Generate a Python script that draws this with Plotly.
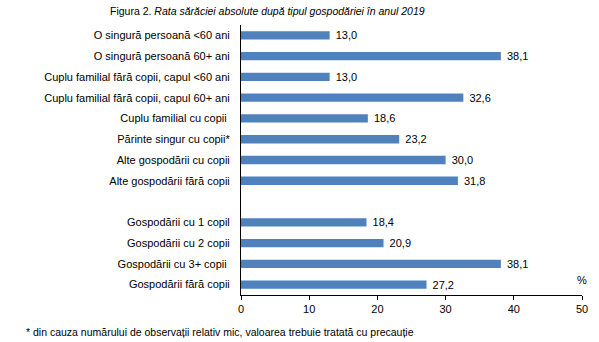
import plotly.graph_objects as go

categories = [
    "O singură persoană <60 ani",
    "O singură persoană 60+ ani",
    "Cuplu familial fără copii, capul <60 ani",
    "Cuplu familial fără copii, capul 60+ ani",
    "Cuplu familial cu copii ",
    "Părinte singur cu copii*",
    "Alte gospodării cu copii",
    "Alte gospodării fără copii",
    " ",
    "Gospodării cu 1 copil",
    "Gospodării cu 2 copii",
    "Gospodării cu 3+ copii ",
    "Gospodării fără copii",
]
values = [13.0, 38.1, 13.0, 32.6, 18.6, 23.2, 30.0, 31.8, None, 18.4, 20.9, 38.1, 27.2]
x_ticks = [0, 10, 20, 30, 40, 50]

FONT = "Liberation Sans, Arial, sans-serif"

fig = go.Figure(go.Bar(
    x=values,
    y=categories,
    orientation="h",
    marker=dict(color="#4F81BD", line=dict(width=0)),
    texttemplate=" %{x:.1f}",
    textposition="outside",
    constraintext="none",
    textfont=dict(family=FONT, size=11, color="black"),
    cliponaxis=False,
    hoverinfo="skip",
))

fig.update_layout(
    width=599, height=342,
    margin=dict(l=241, r=17, t=25, b=47),
    paper_bgcolor="white", plot_bgcolor="white",
    separators=",.",
    bargap=0.6,
    showlegend=False,
    uniformtext=dict(minsize=11, mode="show"),
    font=dict(family=FONT, size=11, color="black"),
    xaxis=dict(
        range=[0, 50], tickvals=x_ticks, showgrid=False, zeroline=False,
        showline=True, linecolor="black", linewidth=1,
        ticks="outside", ticklen=4, tickcolor="black",
        tickfont=dict(family=FONT, size=11, color="black"),
    ),
    yaxis=dict(
        type="category", autorange="reversed", showgrid=False, zeroline=False,
        showline=True, linecolor="black", linewidth=1, ticks="",
        ticklabelstandoff=8,
        tickfont=dict(family=FONT, size=11, color="black"),
    ),
    annotations=[
        dict(text="Figura 2. <i>Rata sărăciei absolute după tipul gospodăriei în anul 2019</i>",
             xref="paper", yref="paper", x=(268 - 241) / 341.5, y=1 + (25 - 11) / 270,
             xanchor="center", yanchor="middle", showarrow=False,
             font=dict(family=FONT, size=10.5, color="black")),
        dict(text="%", xref="paper", yref="paper", x=1, y=(295 - 280) / 270,
             xanchor="center", yanchor="middle", showarrow=False,
             font=dict(family=FONT, size=11, color="black")),
        dict(text="* din cauza numărului de observații relativ mic, valoarea trebuie tratată cu precauție",
             xref="paper", yref="paper", x=(24 - 241) / 341.5, y=-(332 - 295) / 270,
             xanchor="left", yanchor="middle", showarrow=False,
             font=dict(family=FONT, size=10.5, color="black")),
    ],
)

fig.write_html("out.html")
